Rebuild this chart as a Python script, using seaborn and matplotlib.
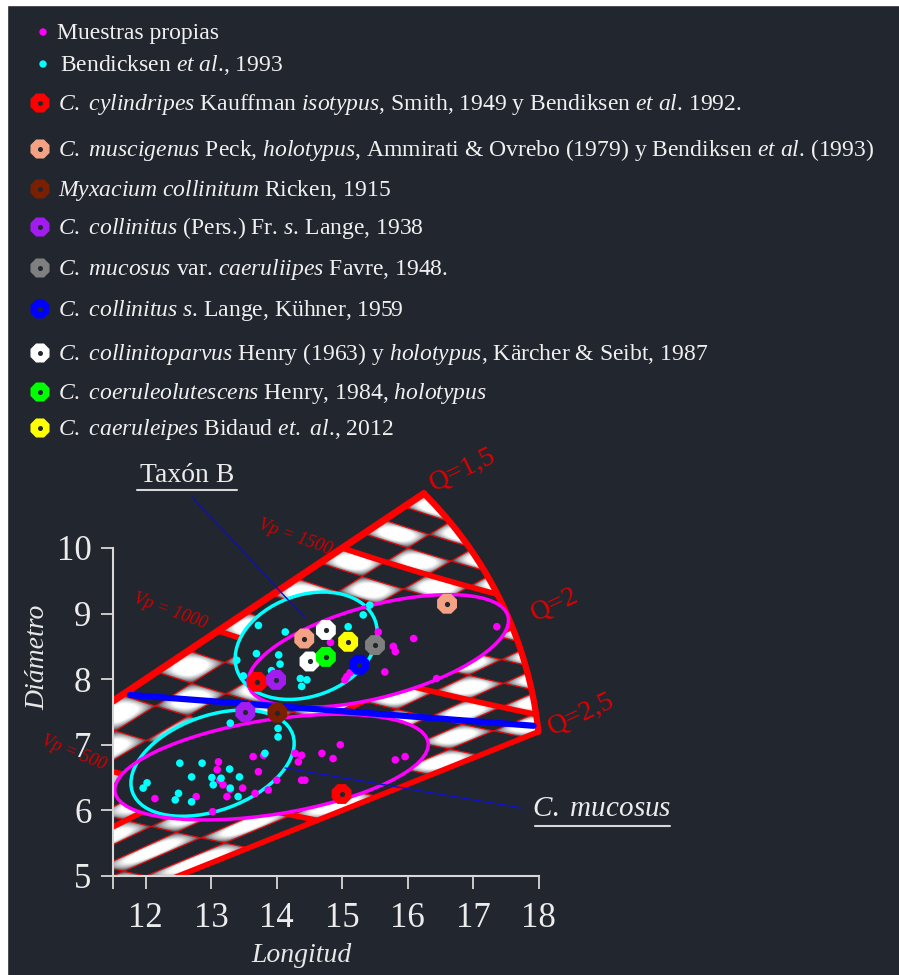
import numpy as np
import pandas as pd
import matplotlib
matplotlib.use("Agg")
import matplotlib.pyplot as plt
from matplotlib.colors import to_rgb
from matplotlib.patches import Ellipse, Rectangle
import seaborn as sns

BG = "#22272f"

# ---- Muestras propias (Longitud, Diametro) ----
muestras_L = [15.55, 14.82, 15.78, 15.81, 16.09, 15.65, 16.44, 17.36, 15.07, 15.12, 15.04,
              13.11, 13.09, 13.13, 13.18, 13.29, 13.24, 13.48, 13.67, 13.72, 13.64, 13.80,
              13.87, 14.00, 14.28, 14.38, 14.33, 14.38, 14.43, 14.69, 14.86, 14.97, 15.81,
              15.96, 12.14, 12.77, 13.02]
muestras_D = [8.72, 8.56, 8.50, 8.42, 8.62, 8.11, 8.01, 8.80, 8.04, 8.10, 7.99,
              6.74, 6.62, 6.46, 6.39, 6.32, 6.21, 6.34, 6.26, 6.59, 6.82, 6.84,
              6.31, 6.46, 6.87, 6.84, 6.74, 6.46, 6.46, 6.87, 6.79, 7.00, 6.77,
              6.82, 6.18, 6.21, 5.98]

# ---- Bendicksen et al., 1993 ----
bend_L = [13.72, 13.39, 13.49, 13.69, 14.03, 14.05, 13.92, 14.36, 14.46, 14.38, 14.13, 15.09, 15.32, 15.42,
          13.29, 14.02, 14.02, 13.82, 12.52, 12.86, 12.70, 13.01, 13.28, 13.43, 13.03, 12.02, 11.96,
          12.50, 12.45, 12.70, 13.29, 13.41, 13.15]
bend_D = [8.82, 8.29, 8.05, 8.39, 8.37, 8.23, 8.13, 8.01, 7.99, 7.89, 8.72, 8.80, 8.98, 9.13,
          7.33, 7.25, 7.12, 6.87, 6.72, 6.72, 6.51, 6.50, 6.63, 6.51, 6.39, 6.42, 6.34,
          6.26, 6.16, 6.13, 6.34, 6.21, 6.49]

# ---- taxones de referencia (anillos) ----
taxa = ["C. cylindripes", "C. muscigenus", "Myxacium collinitum", "C. collinitus Lange",
        "C. mucosus var. caeruliipes", "C. collinitus Kuhner", "C. collinitoparvus",
        "C. coeruleolutescens", "C. caeruleipes"]
taxa_colors = ["#ff0000", "#f4a283", "#7a1f00", "#a21cf0", "#7f7f7f",
               "#0000ff", "#ffffff", "#00ff00", "#ffff00"]
ring_taxon = [0, 0, 1, 1, 2, 3, 3, 4, 5, 6, 6, 7, 8]
ring_L = [13.70, 14.99, 14.42, 16.60, 14.01, 13.99, 13.52, 15.50, 15.26, 14.75, 14.50, 14.75, 15.09]
ring_D = [7.96, 6.25, 8.62, 9.15, 7.49, 7.99, 7.50, 8.52, 8.22, 8.75, 8.27, 8.34, 8.57]

# ---- elipses ----
elipse_color = ["#00ffff", "#ff00ff", "#00ffff", "#ff00ff"]
elipse_L = [14.45, 15.55, 13.02, 13.92]
elipse_D = [8.51, 8.43, 6.72, 6.66]
elipse_a = [1.12, 2.05, 1.30, 2.42]
elipse_b = [0.77, 0.70, 0.72, 0.72]
elipse_ang = [20, 15, 20, 9]

# ---- lineas de referencia ----
Q_lines = [1.5, 2.0, 2.5]
Vp_lines = [500, 1000, 1500]
ARC_C = (12.0, 6.55)
ARC_R = 6.03
Q_STEP = 0.1
VP_STEP = 100
banda_L = [11.76, 17.92]
banda_D = [7.76, 7.29]

x_ticks = [11.5, 12, 13, 14, 15, 16, 17, 18]
x_labels = ["", "12", "13", "14", "15", "16", "17", "18"]
y_ticks = [5, 6, 7, 8, 9, 10]

leyenda_txt = [
    "Muestras propias",
    r"Bendicksen $\mathit{et\ al}$., 1993",
    r"$\mathit{C.\ cylindripes}$ Kauffman $\mathit{isotypus}$, Smith, 1949 y Bendiksen $\mathit{et\ al}$. 1992.",
    r"$\mathit{C.\ muscigenus}$ Peck, $\mathit{holotypus}$, Ammirati & Ovrebo (1979) y Bendiksen $\mathit{et\ al}$. (1993)",
    r"$\mathit{Myxacium\ collinitum}$ Ricken, 1915",
    r"$\mathit{C.\ collinitus}$ (Pers.) Fr. $\mathit{s}$. Lange, 1938",
    r"$\mathit{C.\ mucosus}$ var. $\mathit{caeruliipes}$ Favre, 1948.",
    r"$\mathit{C.\ collinitus\ s}$. Lange, Kühner, 1959",
    r"$\mathit{C.\ collinitoparvus}$ Henry (1963) y $\mathit{holotypus}$, Kärcher & Seibt, 1987",
    r"$\mathit{C.\ coeruleolutescens}$ Henry, 1984, $\mathit{holotypus}$",
    r"$\mathit{C.\ caeruleipes}$ Bidaud $\mathit{et.\ al}$., 2012",
]
leyenda_y = [32, 64, 103, 149, 189, 227, 268, 309, 353, 392, 428]

sns.set_theme(style="dark", rc={"axes.facecolor": BG, "figure.facecolor": BG})
plt.rcParams["font.family"] = "serif"
plt.rcParams["font.serif"] = ["Liberation Serif", "DejaVu Serif"]
plt.rcParams["mathtext.fontset"] = "custom"
plt.rcParams["mathtext.rm"] = "Liberation Serif"
plt.rcParams["mathtext.it"] = "Liberation Serif:italic"
plt.rcParams["mathtext.bf"] = "Liberation Serif:bold"

fig = plt.figure(figsize=(8.99, 9.75), dpi=100, facecolor=BG)
ax = fig.add_axes([113 / 899, 99 / 975, 524 / 899, 426.4 / 975])
ax.set_facecolor(BG)


def in_arc(L, D):
    return (L - ARC_C[0]) ** 2 + (D - ARC_C[1]) ** 2 <= ARC_R ** 2


def q_arc_end(q):
    # interseccion de D = L/q con el arco exterior
    a = 1 + 1 / q ** 2
    b = -2 * (ARC_C[0] + ARC_C[1] / q)
    c = ARC_C[0] ** 2 + ARC_C[1] ** 2 - ARC_R ** 2
    return (-b + np.sqrt(b * b - 4 * a * c)) / (2 * a)


# fondo a cuadros dentro del abanico (Q, Vp)
Lg = np.linspace(11.5, 18.3, 1400)
Dg = np.linspace(5.0, 11.0, 1200)
LL, DD = np.meshgrid(Lg, Dg)
QQ = LL / DD
VV = LL * DD ** 2
uq = (QQ - 1.5) / Q_STEP
uv = VV / VP_STEP
iq = np.floor(uq)
iv = np.floor(uv)
bump = np.clip(np.sin(np.pi * (uq - iq)) * np.sin(np.pi * (uv - iv)), 0, 1) ** 0.4
w = np.where((iq + iv) % 2 == 0, np.clip(1.3 * bump, 0, 1), 0.0)
inside = (QQ >= 1.5) & (QQ <= 2.5) & in_arc(LL, DD)
rgba = np.zeros(DD.shape + (4,))
rgba[..., :3] = np.array(to_rgb(BG)) * (1 - w[..., None]) + w[..., None]
rgba[..., 3] = inside.astype(float)
ax.imshow(rgba, extent=(11.5, 18.3, 5.0, 11.0), origin="lower", aspect="auto",
          interpolation="bilinear", zorder=1)


def vp_curve(vp):
    L = np.linspace(11.5, 18.3, 800)
    D = np.sqrt(vp / L)
    ok = (L / D >= 1.5) & (L / D <= 2.5) & in_arc(L, D)
    return L, np.where(ok, D, np.nan)


def q_line(q, lmin=11.5):
    L = np.linspace(lmin, q_arc_end(q), 200)
    return L, L / q


# rejilla fina
for q in np.arange(1.6, 2.45, Q_STEP):
    L, D = q_line(q)
    ax.plot(L, D, color="#ff0000", lw=0.7, zorder=2)
for vp in range(VP_STEP, 2000, VP_STEP):
    L, D = vp_curve(vp)
    ax.plot(L, D, color="#ff0000", lw=0.7, zorder=2)

# lineas gruesas
for vp in Vp_lines:
    L, D = vp_curve(vp)
    ax.plot(L, D, color="#ff0000", lw=4, zorder=3, solid_capstyle="butt")
L, D = q_line(2.0)
ax.plot(L, D, color="#ff0000", lw=4, zorder=3)
L, D = q_line(1.5)
ax.plot(L, D, color="#ff0000", lw=5, zorder=3.5, solid_capstyle="round")
L, D = q_line(2.5, lmin=12.4)
ax.plot(L, D, color="#ff0000", lw=4, zorder=3.5, solid_capstyle="round")
p0 = q_arc_end(2.5)
p1 = q_arc_end(1.5)
phi0 = np.arctan2(p0 / 2.5 - ARC_C[1], p0 - ARC_C[0])
phi1 = np.arctan2(p1 / 1.5 - ARC_C[1], p1 - ARC_C[0])
phi = np.linspace(phi0, phi1, 200)
ax.plot(ARC_C[0] + ARC_R * np.cos(phi), ARC_C[1] + ARC_R * np.sin(phi), color="#ff0000",
        lw=4.5, zorder=3.5, solid_capstyle="round")

# elipses
for c, l, d, a, b, ang in zip(elipse_color, elipse_L, elipse_D, elipse_a, elipse_b, elipse_ang):
    ax.add_patch(Ellipse((l, d), 2 * a, 2 * b, angle=ang, facecolor=BG, edgecolor="none", zorder=4))
for c, l, d, a, b, ang in zip(elipse_color, elipse_L, elipse_D, elipse_a, elipse_b, elipse_ang):
    ax.add_patch(Ellipse((l, d), 2 * a, 2 * b, angle=ang, fill=False, edgecolor=c, lw=2.5, zorder=5))

ax.plot(banda_L, banda_D, color="#0000ff", lw=4.5, zorder=5.5, solid_capstyle="round")

# puntos
dots = pd.DataFrame({
    "Longitud": muestras_L + bend_L,
    "Diametro": muestras_D + bend_D,
    "grupo": ["Muestras propias"] * len(muestras_L) + ["Bendicksen"] * len(bend_L),
})
sns.scatterplot(data=dots, x="Longitud", y="Diametro", hue="grupo",
                palette={"Muestras propias": "#ff00ff", "Bendicksen": "#00ffff"},
                s=30, linewidth=0, legend=False, ax=ax, zorder=6)

rings = pd.DataFrame({"Longitud": ring_L, "Diametro": ring_D,
                      "taxon": [taxa[i] for i in ring_taxon]})
sns.scatterplot(data=rings, x="Longitud", y="Diametro", hue="taxon",
                palette=dict(zip(taxa, taxa_colors)), marker="8", s=240,
                linewidth=0, legend=False, ax=ax, zorder=7)
sns.scatterplot(data=rings, x="Longitud", y="Diametro", color=BG, s=14,
                linewidth=0, legend=False, ax=ax, zorder=8)

# ejes
ax.set_xlim(11.5, 19.5)
ax.set_ylim(5, 11.5)
ax.set_xlabel("")
ax.set_ylabel("")
ax.set_xticks(x_ticks)
ax.set_xticklabels(x_labels)
ax.set_yticks(y_ticks)
for s in ["top", "right"]:
    ax.spines[s].set_visible(False)
for s in ["bottom", "left"]:
    ax.spines[s].set_visible(True)
    ax.spines[s].set_color("#d8d8d8")
    ax.spines[s].set_linewidth(1.5)
    ax.spines[s].set_zorder(9)
ax.spines["bottom"].set_bounds(11.5, 18)
ax.spines["left"].set_bounds(5, 10)
ax.tick_params(axis="x", direction="out", length=9, width=1.3, color="#d8d8d8",
               labelcolor="#ececec", labelsize=25, pad=10, bottom=True)
ax.tick_params(axis="y", direction="out", length=8.5, width=1.3, color="#d8d8d8",
               labelcolor="#ececec", labelsize=25, pad=7, left=True)
ax.grid(False)

# capa de anotaciones en pixeles
ov = fig.add_axes([0, 0, 1, 1], zorder=10)
ov.set_xlim(0, 899)
ov.set_ylim(975, 0)
ov.axis("off")

fig.patches.append(Rectangle((0, 0), 7 / 899, 1, transform=fig.transFigure, color="white", zorder=20))
fig.patches.append(Rectangle((0, 1 - 5 / 975), 1, 5 / 975, transform=fig.transFigure, color="white", zorder=20))

# leyenda
ov.scatter([43, 43], leyenda_y[:2], s=28, c=["#ff00ff", "#00ffff"], linewidths=0)
ov.scatter([40] * len(taxa), leyenda_y[2:], s=220, marker="8", c=taxa_colors, linewidths=0)
ov.scatter([40] * len(taxa), leyenda_y[2:], s=13, c=BG, linewidths=0)
for i, (txt, y) in enumerate(zip(leyenda_txt, leyenda_y)):
    x0 = 57 if i == 0 else (60 if i == 1 else 58)
    ov.text(x0, y + 7, txt, fontsize=17, color="#f0f0f0", ha="left", va="baseline")

ov.text(38, 657, "Diámetro", rotation=90, style="italic", fontsize=20, color="#e8e8e8",
        ha="center", va="center")
ov.text(301, 956, "Longitud", style="italic", fontsize=20, color="#e8e8e8",
        ha="center", va="center")

# etiquetas Q y Vp
ov.text(463, 470, "Q=1,5", rotation=26, fontsize=20, color="#e00000", ha="center", va="center")
ov.text(555, 605, "Q=2", rotation=25, fontsize=20, color="#e00000", ha="center", va="center")
ov.text(581, 715, "Q=2,5", rotation=25, fontsize=20, color="#e00000", ha="center", va="center")
ov.text(295, 537, "Vp = 1500", rotation=-20, style="italic", fontsize=13, color="#d00000",
        ha="center", va="center")
ov.text(170, 611, "Vp = 1000", rotation=-20, style="italic", fontsize=13, color="#d00000",
        ha="center", va="center")
ov.text(74, 753, "Vp = 500", rotation=-22, style="italic", fontsize=13, color="#d00000",
        ha="center", va="center")

# Taxon B y C. mucosus
ov.text(187, 476, "Taxón B", fontsize=20, color="#ececec", ha="center", va="center")
ov.plot([137, 237], [490, 490], color="#d8d8d8", lw=1.5)
ov.plot([192, 305], [497, 618], color="#1010b0", lw=1.0)
ov.text(602, 809, r"$\mathit{C.\ mucosus}$", fontsize=21, color="#ececec", ha="center", va="center")
ov.plot([535, 670], [826, 826], color="#d8d8d8", lw=1.5)
ov.plot([285, 522], [768, 808], color="#1010d0", lw=1.0)

fig.savefig("out.png", dpi=100, facecolor=BG)
